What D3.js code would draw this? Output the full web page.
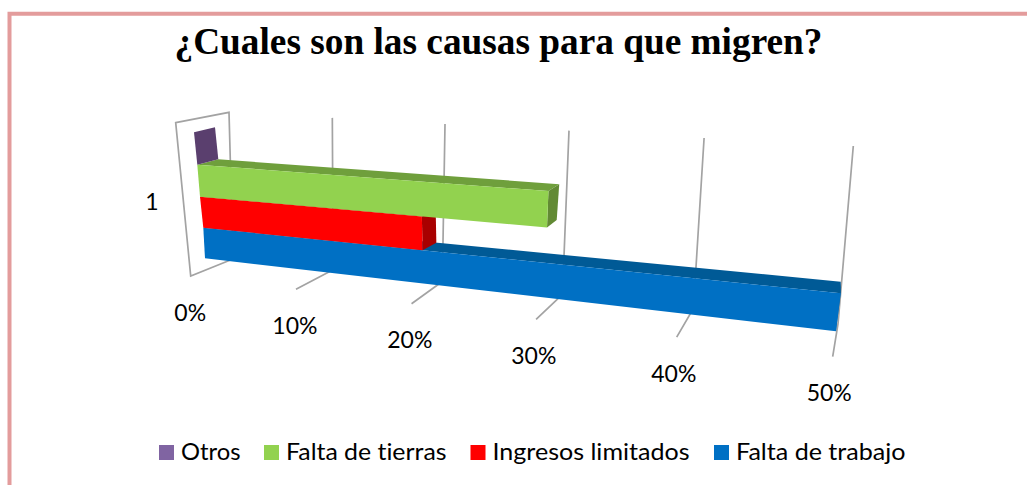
<!DOCTYPE html>
<html><head><meta charset="utf-8">
<script src="https://cdn.jsdelivr.net/npm/d3@7"></script>
<style>html,body{margin:0;padding:0;background:#fff}svg{display:block}text{font-variant-ligatures:none}</style>
</head><body><div id="chart"></div>
<script>
// ---- data ----
const chartTitle = "¿Cuales son las causas para que migren?";
const categoryLabel = "1";
const seriesNames = ["Falta de trabajo", "Ingresos limitados", "Falta de tierras", "Otros"];
const seriesValues = [50, 20, 30, 0];
const legendOrder = ["Otros", "Falta de tierras", "Ingresos limitados", "Falta de trabajo"];
const tickValues = [0, 10, 20, 30, 40, 50];
const tickLabels = ["0%", "10%", "20%", "30%", "40%", "50%"];
const frontColors = ["#0070c4", "#ff0000", "#92d24f", "#8064a2"];
const topColors = ["#005a96", "#c00000", "#6f9f3c", "#5f4a79"];
const sideColors = ["#005a96", "#a80000", "#628a34", "#5a3f6e"];

// ---- perspective calibration ----
const W = 1027, H = 485;
const svg = d3.select("#chart").append("svg").attr("width", W).attr("height", H);

const tBar = d3.scaleLinear().domain(tickValues).range([0, .164, .344, .538, .757, 1]);
const tWall = d3.scaleLinear().domain(tickValues).range([0, .1655, .346, .5446, .761, 1]);
const levels = [0, 1, 2, 3, 4];
const ls = r => d3.scaleLinear().domain(levels).range(r);
const frontLeftX = ls([205, 203.3, 200, 197.3, 194]), frontLeftY = ls([258.3, 227.7, 196.7, 164.7, 132.3]);
const frontRightX = ls([836, 840.7, 845, 850, 855]), frontRightY = ls([331.3, 293.3, 254, 213.6, 173]);
const backLeftX = ls([226, 224.3, 221, 218.3, 215]), backLeftY = ls([252.8, 222.2, 191.5, 159.3, 127.3]);
const backRightX = ls([836, 840.7, 845, 852, 855]), backRightY = ls([318, 281.7, 244.5, 205.6, 166]);
const mix = (a, b, t) => a + (b - a) * t;
const pt = (v, lev, back) => {
  const t = tBar(v);
  return back
    ? [mix(backLeftX(lev), backRightX(lev), t), mix(backLeftY(lev), backRightY(lev), t)]
    : [mix(frontLeftX(lev), frontRightX(lev), t), mix(frontLeftY(lev), frontRightY(lev), t)];
};
const wallTop = v => { const t = tWall(v); return [mix(229, 853.3, t), mix(112.3, 146, t)]; };
const floorBack = v => { const t = tWall(v); return [mix(233, 838, t), mix(259, 324, t)]; };
const floorFront = v => { const t = tBar(v); return [mix(190.7, 832.7, t), mix(276, 356.7, t)]; };
const line = d3.line();
const gridColor = "#a3a3a3";

// ---- frame ----
const border = "#e39c9c";
svg.append("path").attr("d", line([[9.5, H + 5], [9.5, 13.7], [W + 5, 13.7]]))
  .attr("fill", "none").attr("stroke", border).attr("stroke-width", 4);

svg.append("text").attr("x", 498.5).attr("y", 54).attr("text-anchor", "middle")
  .attr("font-family", "Liberation Serif").attr("font-weight", "bold").attr("font-size", 37.3)
  .attr("fill", "#000").text(chartTitle);

// ---- walls and gridlines ----
svg.append("path")
  .attr("d", line([[175.7, 122.7], wallTop(0), floorBack(0), floorFront(0)]) + "Z")
  .attr("fill", "#fff").attr("stroke", gridColor).attr("stroke-width", 1.7);
svg.selectAll("path.grid").data(tickValues.slice(1)).join("path").attr("class", "grid")
  .attr("d", v => line([wallTop(v), floorBack(v), floorFront(v)]))
  .attr("fill", "none").attr("stroke", gridColor).attr("stroke-width", 1.7);

// ---- bars ----
seriesValues.forEach((v, i) => {
  const g = svg.append("g");
  const a = i, b = i + 1;
  const poly = (pts, c) => g.append("polygon").attr("points", pts.map(p => p.join(",")).join(" ")).attr("fill", c);
  if (v > 0) {
    poly([pt(0, b, false), pt(v, b, false), pt(v, b, true), pt(0, b, true)], topColors[i]);
    poly([pt(v, a, false), pt(v, b, false), pt(v, b, true), pt(v, a, true)], sideColors[i]);
    poly([pt(0, a, false), pt(v, a, false), pt(v, b, false), pt(0, b, false)], frontColors[i]);
  } else {
    poly([pt(v, a, false), pt(v, b, false), pt(v, b, true), pt(v, a, true)], sideColors[i]);
  }
});

// ---- axis labels ----
const labelFont = "Lato";
const labelOffsetX = d3.scaleLinear().domain([0, 50]).range([-0.5, -3.5]);
const labelOffsetY = 44.5;
svg.selectAll("text.tick").data(tickValues).join("text").attr("class", "tick")
  .attr("x", v => floorFront(v)[0] + labelOffsetX(v))
  .attr("y", v => floorFront(v)[1] + labelOffsetY)
  .attr("text-anchor", "middle")
  .attr("font-family", labelFont).attr("font-size", 23).attr("fill", "#000")
  .text((v, i) => tickLabels[i]);
svg.append("text").attr("x", 152).attr("y", 210).attr("text-anchor", "middle")
  .attr("font-family", labelFont).attr("font-size", 23).attr("fill", "#000").text(categoryLabel);

// ---- legend ----
const legendX = d3.scaleOrdinal().domain(legendOrder).range([159, 264, 470.5, 714]);
const legendLen = d3.scaleOrdinal().domain(legendOrder).range([59.5, 160.5, 197, 169.5]);
const legendG = svg.selectAll("g.leg").data(legendOrder).join("g").attr("class", "leg")
  .attr("transform", d => `translate(${legendX(d)},0)`);
legendG.append("rect").attr("y", 445).attr("width", 15).attr("height", 15)
  .attr("fill", d => frontColors[seriesNames.indexOf(d)]);
legendG.append("text").attr("x", 22).attr("y", 460)
  .attr("font-family", labelFont).attr("font-size", 23).attr("fill", "#000")
  .attr("textLength", d => legendLen(d)).attr("lengthAdjust", "spacingAndGlyphs").text(d => d);
</script></body></html>
